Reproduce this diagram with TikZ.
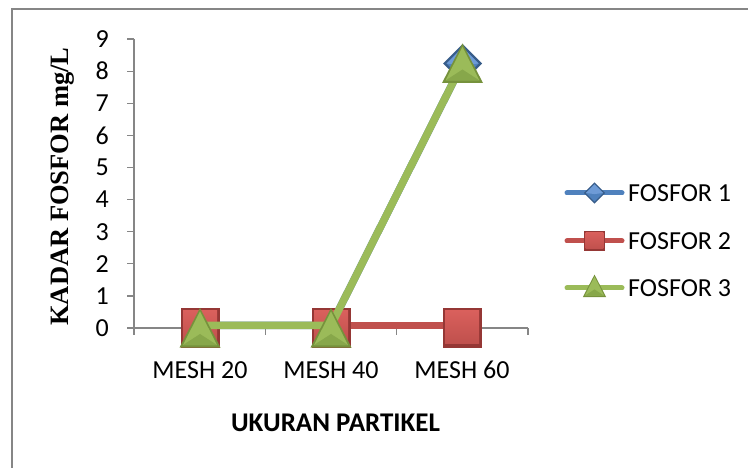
\documentclass[tikz,border=0pt]{standalone}
\usepackage{fontspec}
\setmainfont{Carlito}
\newfontfamily\titleserif{Liberation Serif}
\definecolor{framegray}{HTML}{868686}
\definecolor{sblue}{HTML}{4F81BD}
\definecolor{sbluedark}{HTML}{385D8A}
\definecolor{sbluelight}{HTML}{6E9BD6}
\definecolor{sred}{HTML}{C0504D}
\definecolor{sreddark}{HTML}{953735}
\definecolor{sredlight}{HTML}{D9605C}
\definecolor{sgreen}{HTML}{9BBB59}
\definecolor{sgreendark}{HTML}{76923C}
\definecolor{sgreenmid}{HTML}{87A74A}
\tikzset{
  axisline/.style={draw=framegray, line width=1.3bp},
  ticklab/.style={inner sep=0pt, font=\fontsize{26bp}{28bp}\selectfont},
  seriesline/.style={line width=7.5bp, line join=round},
  legline/.style={line width=5bp, line cap=round},
  legtext/.style={inner sep=0pt, anchor=west, font=\fontsize{26bp}{28bp}\selectfont},
  diamondmk/.pic={
    \fill[sbluedark] (0,-19.5) -- (19.5,0) -- (0,19.5) -- (-19.5,0) -- cycle;
    \fill[sblue] (0,-16) -- (16,0) -- (0,16) -- (-16,0) -- cycle;
    \fill[sbluelight] (0,-16) -- (16,0) -- (0,2) -- (-16,0) -- cycle;
  },
  squaremk/.pic={
    \fill[sreddark] (-19.5,-19.5) rectangle (19.5,19.5);
    \shade[top color=sredlight, bottom color=sred] (-17,-17) rectangle (17,15);
  },
  trianglemk/.pic={
    \fill[sgreendark] (0,-20) -- (20.5,19.5) -- (-20.5,19.5) -- cycle;
    \fill[sgreen] (0,-16.5) -- (17,17) -- (-17,17) -- cycle;
    \fill[sgreenmid] (0,6) -- (17,17) -- (-17,17) -- cycle;
  }
}
\begin{document}
\begin{tikzpicture}[x=1bp,y={(0bp,-1bp)}]
\useasboundingbox (0,0) rectangle (748,468);
\begin{scope}
\clip (0,0) rectangle (748,468);
\draw[framegray, line width=2bp] (12,9) rectangle (780,500);
\end{scope}

% axes
\draw[axisline] (134,39) -- (134,328) -- (528,328);
\foreach \v in {0,...,9} {
  \draw[axisline] (127,{328-32.1*\v}) -- (134,{328-32.1*\v});
  \node[ticklab, anchor=east] (ylab\v) at (109,{328-32.1*\v}) {\v};
}
\foreach \xx in {134,265.3,396.7,528} {
  \draw[axisline] (\xx,328) -- (\xx,335);
}
\node[ticklab] (c20) at (200,370) {MESH 20};
\node[ticklab] (c40) at (331,370) {MESH 40};
\node[ticklab] (c60) at (462,370) {MESH 60};

% titles
\node[rotate=90, inner sep=0pt, font=\titleserif\bfseries\fontsize{26.5bp}{28bp}\selectfont] (ytitle) at (63,186.5) {KADAR FOSFOR mg/L};
\node[inner sep=0pt, font=\bfseries\fontsize{27bp}{29bp}\selectfont] (xtitle) at (335.5,423) {UKURAN PARTIKEL};

% data coordinates
\coordinate (b1) at (200,325.5);
\coordinate (b2) at (331,325.5);
\coordinate (b3) at (462.5,63.5);
\coordinate (r1) at (200,325.5);
\coordinate (r2) at (331,325.5);
\coordinate (r3) at (462,325.5);
\coordinate (g1) at (200,325.5);
\coordinate (g2) at (331,325.5);
\coordinate (g3) at (462.5,63.5);

% series 1
\draw[seriesline, sblue] (b1) -- (b2) -- (b3);
\pic at (200,328) {diamondmk};
\pic at (331,328) {diamondmk};
\pic at (b3) {diamondmk};
% series 2
\draw[seriesline, sred] (r1) -- (r2) -- (r3);
\pic at (200,328) {squaremk};
\pic at (331,328) {squaremk};
\pic at (462,328) {squaremk};
% series 3
\draw[seriesline, sgreen] (g1) -- (g2) -- (g3);
\pic at (200,328) {trianglemk};
\pic at (331,328) {trianglemk};
\pic at (g3) {trianglemk};

% legend
\coordinate (l1a) at (567,193); \coordinate (l1b) at (622,193);
\coordinate (l2a) at (567,241); \coordinate (l2b) at (622,241);
\coordinate (l3a) at (567,288); \coordinate (l3b) at (622,288);
\draw[legline, sblue] (l1a) -- (l1b);
\pic[scale=0.54] at (594.5,193) {diamondmk};
\node[legtext] (leg1) at (628,193) {FOSFOR 1};
\draw[legline, sred] (l2a) -- (l2b);
\pic[scale=0.52] at (594.5,241) {squaremk};
\node[legtext] (leg2) at (628,241) {FOSFOR 2};
\draw[legline, sgreen] (l3a) -- (l3b);
\pic[scale=0.57] at (594.5,286) {trianglemk};
\node[legtext] (leg3) at (628,288) {FOSFOR 3};
\end{tikzpicture}
\end{document}
